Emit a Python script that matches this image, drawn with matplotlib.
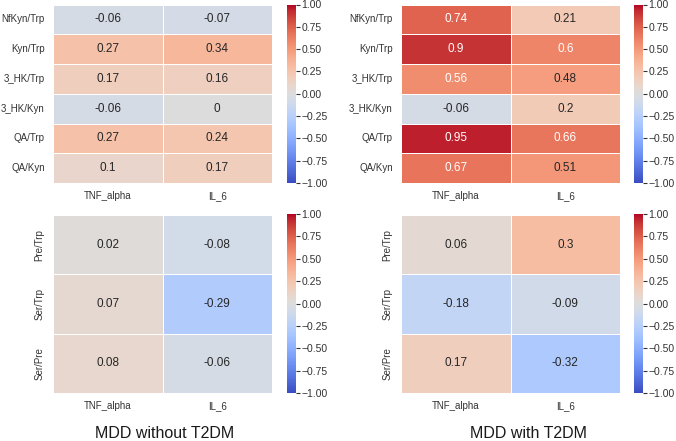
import numpy as np
import matplotlib
matplotlib.use("Agg")
import matplotlib.pyplot as plt
import seaborn as sns

cytokines = ["TNF_alpha", "IL_6"]
kyn_rows = ["NfKyn/Trp", "Kyn/Trp", "3_HK/Trp", "3_HK/Kyn", "QA/Trp", "QA/Kyn"]
ser_rows = ["Pre/Trp", "Ser/Trp", "Ser/Pre"]

kyn_without = [[-0.06, -0.07], [0.27, 0.34], [0.17, 0.16], [-0.06, 0], [0.27, 0.24], [0.1, 0.17]]
kyn_with = [[0.74, 0.21], [0.9, 0.6], [0.56, 0.48], [-0.06, 0.2], [0.95, 0.66], [0.67, 0.51]]
ser_without = [[0.02, -0.08], [0.07, -0.29], [0.08, -0.06]]
ser_with = [[0.06, 0.3], [-0.18, -0.09], [0.17, -0.32]]

titles = ["MDD without T2DM", "MDD with T2DM"]

sns.set_theme(style="white")
plt.rcParams['font.family'] = ['Liberation Sans', 'DejaVu Sans']

W, H = 676, 441
fig = plt.figure(figsize=(W / 100, H / 100), dpi=100)

def rect(x0, y0, x1, y1):
    return [x0 / W, 1 - y1 / H, (x1 - x0) / W, (y1 - y0) / H]

panels = [
    (kyn_without, kyn_rows, rect(53, 4.5, 272, 183), rect(287, 4.5, 296, 183), 0),
    (kyn_with, kyn_rows, rect(401, 4.5, 620, 183), rect(634, 4.5, 643, 183), 0),
    (ser_without, ser_rows, rect(53, 215, 272, 393), rect(287, 214, 296, 393), 90),
    (ser_with, ser_rows, rect(401, 215, 620, 393), rect(634, 214, 643, 393), 90),
]

fs = 7
for data, rows, r_ax, r_cb, rot in panels:
    ax = fig.add_axes(r_ax)
    cax = fig.add_axes(r_cb)
    sns.heatmap(np.array(data), ax=ax, cbar_ax=cax, cmap="coolwarm", vmin=-1, vmax=1,
                annot=True, fmt="g", annot_kws={"fontsize": 8.5},
                linewidths=0.6, linecolor="white",
                xticklabels=cytokines, yticklabels=rows)
    ax.tick_params(axis="both", length=0, labelsize=fs, colors="#333333", pad=6)
    ax.set_yticklabels(rows, rotation=rot, va="center")
    ax.set_xticklabels(cytokines, rotation=0)
    cax.tick_params(axis="y", length=3, width=0.8, labelsize=7.5, colors="#333333", pad=1,
                    right=True)
    cax.set_yticks([-1, -0.75, -0.5, -0.25, 0, 0.25, 0.5, 0.75, 1])
    cax.set_yticklabels(["\u22121.00", "\u22120.75", "\u22120.50", "\u22120.25", "0.00",
                         "0.25", "0.50", "0.75", "1.00"])
    for s in cax.spines.values():
        s.set_visible(False)

fig.text(165 / W, 1 - 433 / H, titles[0], ha="center", va="center", fontsize=11.5, color="#1a1a1a")
fig.text(529 / W, 1 - 433 / H, titles[1], ha="center", va="center", fontsize=11.5, color="#1a1a1a")

fig.savefig("out.png", dpi=100)
